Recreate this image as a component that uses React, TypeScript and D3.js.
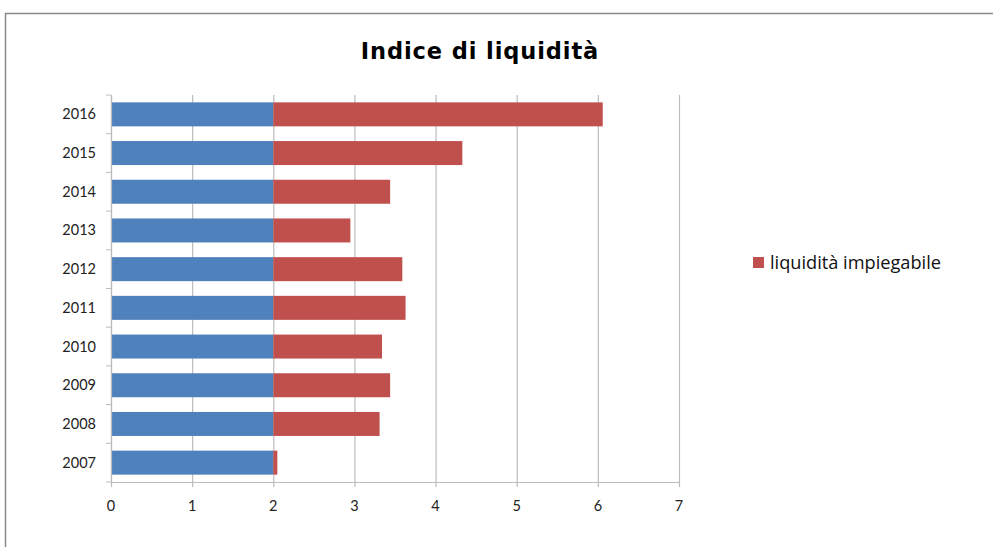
import React from "react";
import * as d3 from "d3";

const years = ["2016", "2015", "2014", "2013", "2012", "2011", "2010", "2009", "2008", "2007"];
const baseValues = [2, 2, 2, 2, 2, 2, 2, 2, 2, 2];
const liquiditaImpiegabile = [4.06, 2.33, 1.44, 0.95, 1.59, 1.63, 1.34, 1.44, 1.31, 0.05];
const xTicks = [0, 1, 2, 3, 4, 5, 6, 7];
const title = "Indice di liquidità";
const legendLabel = "liquidità impiegabile";

const W = 993;
const H = 547;
const BLUE = "#4F81BD";
const RED = "#C0504D";
const FONT = "Lato, 'Open Sans', sans-serif";

export default function App() {
  const x = d3.scaleLinear().domain([0, 7]).range([111, 679]);
  const y = d3.scaleBand<string>().domain(years).range([95, 482]).paddingInner(0.38).paddingOuter(0.19);
  const bh = y.bandwidth();

  return (
    <svg width={W} height={H} style={{ position: "absolute", left: 0, top: 0, background: "#fff" }}>
      <rect x={0} y={0} width={W} height={H} fill="#fff" />
      {/* outer border */}
      <line x1={5.5} y1={13} x2={5.5} y2={H} stroke="#8a8a8a" strokeWidth={1.5} />
      <line x1={5} y1={13.5} x2={W} y2={13.5} stroke="#8a8a8a" strokeWidth={1.5} />

      <text x={480} y={59} textAnchor="middle" fontFamily="'DejaVu Sans', Verdana, sans-serif" fontWeight={700} fontSize={22.5} letterSpacing={0.9} fill="#000">
        {title}
      </text>

      {/* grid lines */}
      {xTicks.map((t) => (
        <line key={"g" + t} x1={x(t) + 0.5} x2={x(t) + 0.5} y1={95} y2={487} stroke="#bcbcbc" strokeWidth={1.2} />
      ))}
      {/* bottom axis */}
      <line x1={111} x2={679} y1={482.5} y2={482.5} stroke="#bcbcbc" strokeWidth={1.2} />
      {/* y axis ticks */}
      {d3.range(years.length + 1).map((i) => {
        const yy = 95 + (387 / years.length) * i;
        return <line key={"yt" + i} x1={106} x2={111} y1={yy} y2={yy} stroke="#bcbcbc" strokeWidth={1} />;
      })}

      {/* bars */}
      {years.map((yr, i) => {
        const base = baseValues[i];
        const red = liquiditaImpiegabile[i];
        const yy = y(yr)!;
        return (
          <g key={yr}>
            <rect x={x(0)} y={yy} width={x(base) - x(0)} height={bh} fill={BLUE} />
            <rect x={x(base)} y={yy} width={x(base + red) - x(base)} height={bh} fill={RED} />
          </g>
        );
      })}

      {/* left axis line */}
      <line x1={111.5} x2={111.5} y1={95} y2={482} stroke="#bcbcbc" strokeWidth={1.2} />

      {/* year labels */}
      {years.map((yr) => (
        <text key={"l" + yr} x={96} y={y(yr)! + bh / 2 + 5} textAnchor="end" fontFamily={FONT} fontSize={14.5} fill="#222">
          {yr}
        </text>
      ))}

      {/* x tick labels */}
      {xTicks.map((t) => (
        <text key={"xl" + t} x={x(t)} y={511} textAnchor="middle" fontFamily={FONT} fontSize={14.5} fill="#222">
          {t}
        </text>
      ))}

      {/* legend */}
      <rect x={753} y={257} width={11} height={11} fill={RED} />
      <text x={770} y={269} fontFamily="'Open Sans', Lato, sans-serif" fontSize={18.2} fill="#111">
        {legendLabel}
      </text>
    </svg>
  );
}
